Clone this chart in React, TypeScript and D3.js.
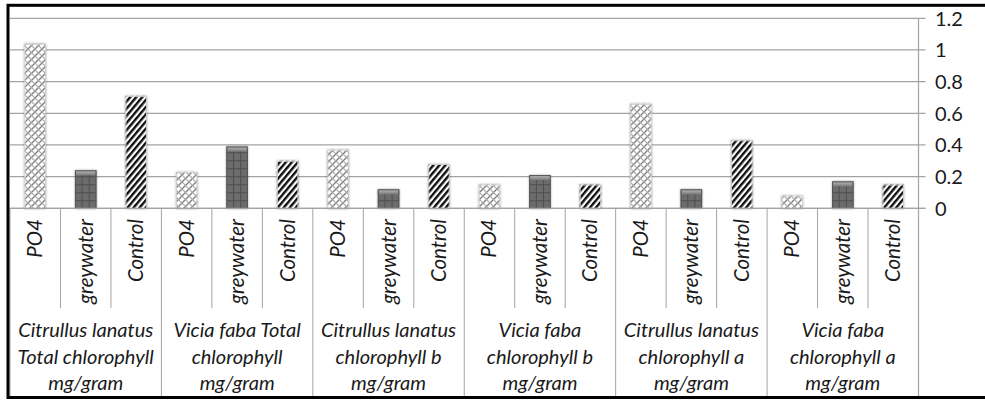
import React, { useEffect } from "react";
import * as d3 from "d3";

const seriesNames = ["PO4", "greywater", "Control"];
const groupLabels = [
  ["Citrullus lanatus", "Total chlorophyll", "mg/gram"],
  ["Vicia faba Total", "chlorophyll", "mg/gram"],
  ["Citrullus lanatus", "chlorophyll b", "mg/gram"],
  ["Vicia faba", "chlorophyll b", "mg/gram"],
  ["Citrullus lanatus", "chlorophyll a", "mg/gram"],
  ["Vicia faba", "chlorophyll a", "mg/gram"],
];
const po4Values = [1.04, 0.23, 0.37, 0.15, 0.66, 0.08];
const greywaterValues = [0.24, 0.39, 0.12, 0.21, 0.12, 0.17];
const controlValues = [0.71, 0.3, 0.28, 0.15, 0.43, 0.15];
const yTicks = [0, 0.2, 0.4, 0.6, 0.8, 1, 1.2];

const W = 985;
const H = 401;
const left = 10;
const right = 918.5;
const top = 18.3;
const base = 208.3;
const barW = 21.5;
const font = "Lato, 'Open Sans', sans-serif";
const textColor = "#1a1a1a";
const lineColor = "#a3a3a3";

export default function App() {
  useEffect(() => {
    document.body.style.margin = "0";
  }, []);

  const items: { key: string; series: number; group: number; value: number }[] = [];
  groupLabels.forEach((_, g) => {
    [po4Values, greywaterValues, controlValues].forEach((arr, s) => {
      items.push({ key: `${g}-${s}`, series: s, group: g, value: arr[g] });
    });
  });

  const x = d3
    .scaleBand<string>()
    .domain(items.map((d) => d.key))
    .range([left, right])
    .padding(0);
  const y = d3.scaleLinear().domain([0, 1.2]).range([base, top]);
  const bw = x.bandwidth();

  const fills = ["url(#pPO4)", "url(#pGrey)", "url(#pCtrl)"];

  return (
    <svg width={W} height={H} style={{ display: "block", background: "#fff" }}>
      <defs>
        <pattern id="pPO4" patternUnits="userSpaceOnUse" width="7" height="7">
          <rect width="7" height="7" fill="#ffffff" />
          <path d="M0,7 L7,0 M-1,1 L1,-1 M6,8 L8,6" stroke="#808080" strokeWidth="1.4" />
          <path d="M0,0 L7,7 M-1,6 L1,8 M6,-1 L8,1" stroke="#a8a8a8" strokeWidth="1.2" />
        </pattern>
        <pattern id="pGrey" patternUnits="userSpaceOnUse" width="8" height="8" x="0" y={base % 8}>
          <rect width="8" height="8" fill="#6c6c6c" />
          <path d="M0,0.5 L8,0.5" stroke="#4e4e4e" strokeWidth="1" />
        </pattern>
        <pattern
          id="pCtrl"
          patternUnits="userSpaceOnUse"
          width="4.6"
          height="10"
          patternTransform="rotate(40)"
        >
          <rect width="4.6" height="10" fill="#ffffff" />
          <rect width="2.4" height="10" fill="#111111" />
        </pattern>
        <linearGradient id="greyTop" x1="0" y1="0" x2="0" y2="1">
          <stop offset="0" stopColor="#bdbdbd" />
          <stop offset="1" stopColor="#7a7a7a" />
        </linearGradient>
        <filter id="soft" x="-30%" y="-10%" width="160%" height="120%">
          <feGaussianBlur in="SourceAlpha" stdDeviation="1.2" />
          <feComponentTransfer>
            <feFuncA type="linear" slope="0.35" />
          </feComponentTransfer>
          <feMerge>
            <feMergeNode />
            <feMergeNode in="SourceGraphic" />
          </feMerge>
        </filter>
      </defs>

      {/* gridlines and right ticks */}
      {yTicks.map((t) => (
        <line
          key={`g${t}`}
          x1={left}
          x2={right + 7}
          y1={y(t)}
          y2={y(t)}
          stroke={lineColor}
          strokeWidth={1.2}
        />
      ))}

      {/* bars */}
      {items.map((d) => {
        const cx = (x(d.key) as number) + bw / 2;
        const yt = y(d.value);
        const h = base - yt;
        return (
          <g key={d.key} filter="url(#soft)">
            <rect x={cx - barW / 2} y={yt} width={barW} height={h} fill={fills[d.series]} />
            {d.series === 1 && (
              <g>
                <line
                  x1={cx - barW / 6}
                  x2={cx - barW / 6}
                  y1={yt + 4}
                  y2={base}
                  stroke="#505050"
                  strokeWidth={1}
                />
                <line
                  x1={cx + barW / 6}
                  x2={cx + barW / 6}
                  y1={yt + 4}
                  y2={base}
                  stroke="#505050"
                  strokeWidth={1}
                />
                <rect
                  x={cx - barW / 2}
                  y={yt}
                  width={barW}
                  height={Math.min(5, h)}
                  fill="url(#greyTop)"
                />
                <rect
                  x={cx - barW / 2 + 0.5}
                  y={yt + 0.5}
                  width={barW - 1}
                  height={h - 0.5}
                  fill="none"
                  stroke="#555555"
                  strokeWidth={1}
                />
              </g>
            )}
            {d.series !== 1 && (
              <rect
                x={cx - barW / 2 + 0.5}
                y={yt + 0.5}
                width={barW - 1}
                height={h - 0.5}
                fill="none"
                stroke="#cfcfcf"
                strokeWidth={1}
              />
            )}
          </g>
        );
      })}

      {/* category axis line */}
      <line x1={left} x2={right + 7} y1={base} y2={base} stroke={lineColor} strokeWidth={1.2} />

      {/* category dividers */}
      {d3.range(items.length + 1).map((i) => {
        const xx = left + i * bw;
        const isGroup = i % 3 === 0;
        return (
          <line
            key={`d${i}`}
            x1={xx}
            x2={xx}
            y1={base}
            y2={isGroup ? 396 : 308}
            stroke={lineColor}
            strokeWidth={1}
          />
        );
      })}

      {/* y axis line */}
      <line x1={right} x2={right} y1={top} y2={396} stroke={lineColor} strokeWidth={1.2} />

      {/* y tick labels */}
      {yTicks.map((t) => (
        <text
          key={`t${t}`}
          x={935}
          y={y(t)}
          dy="0.36em"
          fontFamily={font}
          fontSize={20}
          fill={textColor}
        >
          {d3.format("~g")(t)}
        </text>
      ))}

      {/* series labels (rotated) */}
      {items.map((d) => {
        const cx = (x(d.key) as number) + bw / 2;
        return (
          <text
            key={`l${d.key}`}
            transform={`translate(${cx + 7},219) rotate(-90)`}
            textAnchor="end"
            fontFamily={font}
            fontStyle="italic"
            fontSize={20.5}
            fill={textColor}
          >
            {seriesNames[d.series]}
          </text>
        );
      })}

      {/* group labels */}
      {groupLabels.map((lines, g) => {
        const gx = left + (g * 3 + 1.5) * bw;
        return (
          <text
            key={`gl${g}`}
            textAnchor="middle"
            fontFamily={font}
            fontStyle="italic"
            fontSize={20}
            fill={textColor}
          >
            {lines.map((ln, k) => (
              <tspan key={k} x={gx} y={337 + k * 26.5}>
                {ln}
              </tspan>
            ))}
          </text>
        );
      })}

      {/* outer border */}
      <rect x={8} y={5.3} width={1000} height={392.2} fill="none" stroke="#000" strokeWidth={3} />
    </svg>
  );
}
